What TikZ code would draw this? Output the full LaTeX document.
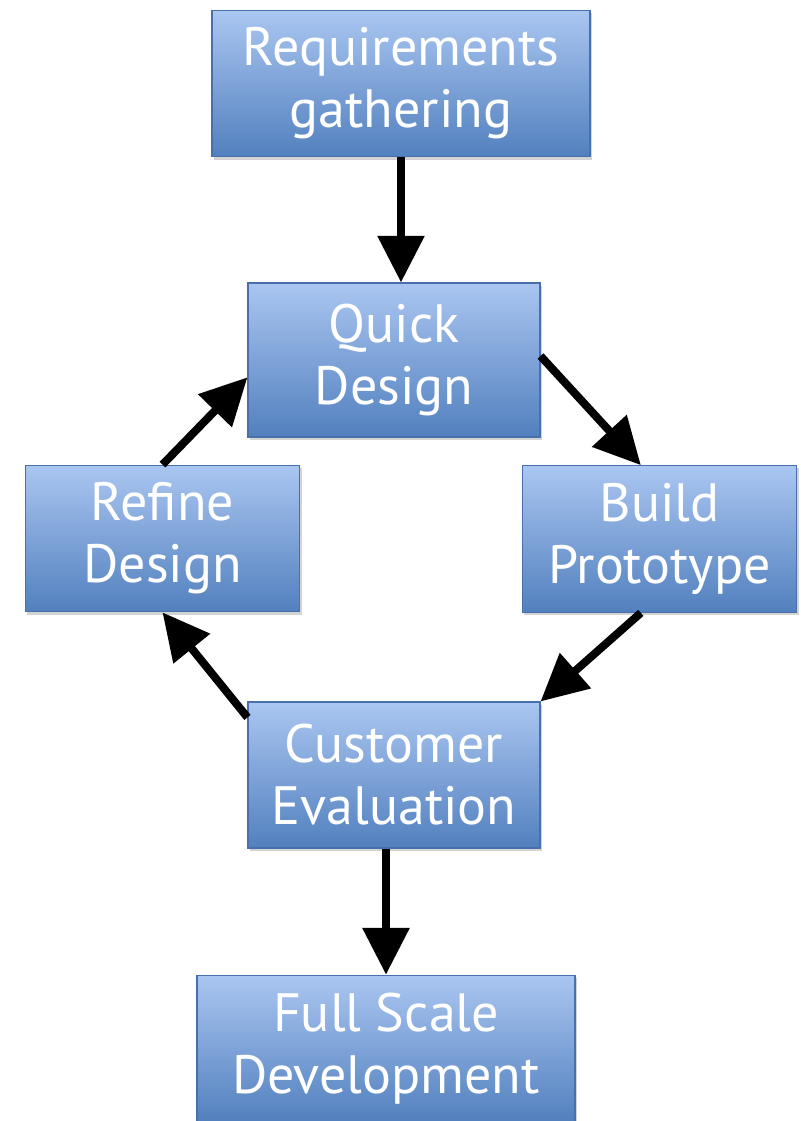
\documentclass[tikz,border=0pt]{standalone}
\usepackage{fontspec}
\newfontfamily\boxfont{PT Sans}
\usetikzlibrary{arrows.meta,shadows}
\definecolor{boxtop}{RGB}{170,198,241}
\definecolor{boxbot}{RGB}{82,128,190}
\definecolor{boxline}{RGB}{72,112,170}
\tikzset{
    phase/.style={draw=boxline, line width=0.8pt, rectangle, inner sep=0pt,
        top color=boxtop, bottom color=boxbot, text=white, align=center,
        font=\boxfont\fontsize{40.5}{46.5}\selectfont,
        drop shadow={opacity=0.35, shadow xshift=1.5pt, shadow yshift=-2pt}},
    flow/.style={line width=6pt, -{Triangle[length=35pt,width=34pt]}}
}
\begin{document}
\begin{tikzpicture}[x=0.75pt, y=-0.75pt]
                \useasboundingbox (0,0) rectangle (800,1121);
                \node at (401,83.5) [phase, minimum width=283.5pt, minimum height=110pt] (req) {Requirements\\gathering};
                \node at (394,360) [phase, minimum width=219pt, minimum height=115.5pt] (quick) {Quick\\Design};
                \node at (162.5,538.5) [phase, minimum width=206pt, minimum height=110pt] (refine) {Refine\\Design};
                \node at (659.5,539) [phase, minimum width=206pt, minimum height=110pt] (build) {Build\\Prototype};
                \node at (394,775) [phase, minimum width=219pt, minimum height=109.5pt] (cust) {Customer\\Evaluation};
                \node at (386,1048.5) [phase, minimum width=283.5pt, minimum height=110pt] (full) {Full Scale\\Development};
                \draw[flow] (req.south) -- (req.south |- quick.north);
                \draw[flow] ([yshift=3pt]quick.east) -- ([xshift=-14pt]build.north);
                \draw[flow] ([xshift=-14pt]build.south) -- (cust.north east);
                \draw[flow] ([yshift=-12pt]cust.north west) -- (refine.south);
                \draw[flow] (refine.north) -- ([yshift=-13pt]quick.west);
                \draw[flow] (cust.south -| full.north) -- (full.north);
            \end{tikzpicture}
\end{document}
